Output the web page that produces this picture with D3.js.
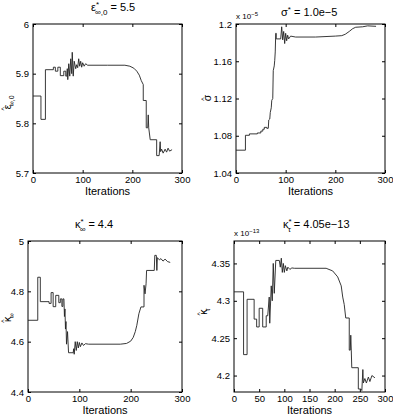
<!DOCTYPE html>
<html>
<head>
<meta charset="utf-8">
<script src="https://cdn.jsdelivr.net/npm/d3@7"></script>
<style>
  body { margin: 0; background: #fff; }
  svg { font-family: "Liberation Sans", Arial, sans-serif; }
</style>
</head>
<body>
<svg id="scene"></svg>
<script>
// iteration / estimate pairs
let epsData = [[0,5.855],[16,5.855],[16,5.808],[25,5.808],[25,5.908],[41,5.908],[41,5.913],[45,5.913],[45,5.905],[50,5.905],[50,5.913],[55,5.913],[55,5.896],[62,5.896],[62,5.905],[66,5.905],[66,5.895],[68,5.895],[69,5.91],[70,5.888],[72,5.92],[74,5.895],[76,5.93],[78,5.9],[79,5.943],[81,5.895],[83,5.925],[86,5.91],[88,5.918],[90,5.912],[92,5.93],[94,5.915],[96,5.925],[98,5.913],[100,5.922],[103,5.915],[106,5.92],[110,5.917],[150,5.917],[185,5.917],[195,5.915],[203,5.911],[209,5.905],[214,5.897],[218,5.886],[222,5.878],[222,5.846],[228,5.846],[228,5.791],[231,5.791],[232,5.817],[233,5.791],[236,5.767],[249,5.767],[249,5.735],[254,5.735],[256,5.763],[257,5.743],[259,5.748],[262,5.74],[266,5.748],[269,5.742],[272,5.75],[275,5.744],[280,5.747]];

let sigmaData = [[0,1.0645],[19,1.0645],[19,1.0805],[27,1.0805],[27,1.082],[43,1.082],[43,1.083],[50,1.083],[50,1.085],[54,1.085],[54,1.087],[57,1.087],[57,1.089],[62,1.089],[62,1.088],[65,1.088],[66,1.097],[68,1.098],[69,1.105],[71,1.11],[72,1.118],[74,1.12],[75,1.15],[77,1.155],[78,1.161],[79,1.17],[80,1.19],[81,1.19],[81,1.184],[90,1.184],[92,1.197],[94,1.183],[96,1.192],[98,1.179],[100,1.19],[102,1.182],[104,1.188],[106,1.184],[110,1.187],[120,1.186],[160,1.186],[200,1.187],[213,1.1875],[220,1.189],[228,1.192],[235,1.195],[241,1.1965],[255,1.197],[265,1.198],[282,1.1975]];

let kinfData = [[0,4.685],[19,4.685],[19,4.856],[24,4.856],[24,4.759],[41,4.759],[41,4.752],[45,4.752],[45,4.795],[49,4.795],[49,4.739],[54,4.739],[54,4.784],[60,4.784],[60,4.755],[63,4.755],[63,4.77],[66,4.77],[66,4.74],[68,4.74],[68,4.77],[70,4.77],[71,4.7],[72,4.73],[73,4.65],[74,4.68],[75,4.59],[77,4.64],[79,4.556],[88,4.556],[89,4.572],[90,4.55],[92,4.6],[94,4.565],[96,4.6],[98,4.575],[100,4.597],[102,4.58],[105,4.595],[108,4.585],[112,4.592],[118,4.59],[150,4.59],[180,4.59],[192,4.593],[200,4.602],[205,4.617],[209,4.64],[212,4.665],[216,4.711],[220,4.738],[226,4.738],[226,4.824],[228,4.79],[230,4.83],[231,4.883],[246,4.883],[247,4.943],[250,4.943],[251,4.883],[252,4.934],[256,4.925],[259,4.93],[263,4.92],[267,4.928],[272,4.918],[277,4.915]];

let ktauData = [[0,4.312],[19,4.312],[19,4.228],[26,4.228],[26,4.302],[40,4.302],[40,4.2755],[45,4.2755],[45,4.265],[50,4.265],[50,4.29],[57,4.29],[57,4.265],[64,4.265],[64,4.28],[67,4.28],[70,4.305],[71,4.27],[74,4.32],[76,4.3],[78,4.35],[80,4.31],[83,4.354],[90,4.354],[92,4.345],[94,4.357],[96,4.338],[98,4.35],[100,4.338],[102,4.347],[105,4.34],[107,4.345],[111,4.342],[115,4.344],[120,4.3435],[183,4.3435],[196,4.34],[206,4.332],[213,4.32],[216,4.305],[219,4.295],[222,4.277],[229,4.277],[229,4.234],[231,4.234],[232,4.254],[233,4.234],[234,4.2105],[247,4.2105],[247,4.182],[252,4.182],[254,4.18],[256,4.208],[257,4.19],[260,4.196],[263,4.19],[267,4.198],[270,4.192],[274,4.2],[280,4.197]];

let xTicks100 = [0, 100, 200, 300];
let xTicks50 = [0, 50, 100, 150, 200, 250, 300];
let epsTicks = [5.7, 5.8, 5.9, 6];
let sigmaTicks = [1.04, 1.08, 1.12, 1.16, 1.2];
let kinfTicks = [4.4, 4.6, 4.8, 5];
let ktauTicks = [4.2, 4.25, 4.3, 4.35];

function init() {
    let width = 393,
        height = 420,
        svg = d3.select('#scene').attr("width", width).attr("height", height);

    let panels = [
        {data: epsData, box: [33, 24, 182, 173], yDomain: [5.7, 6], yTicks: epsTicks, xTicks: xTicks100,
         title: {x: 91, y: 11, main: "ε", sub: "∞,0", val: " = 5.5"},
         ylab: {x: 11, y: 103, main: "ε", sub: "∞,0"}},
        {data: sigmaData, box: [236, 24, 385, 173], yDomain: [1.04, 1.2], yTicks: sigmaTicks, xTicks: xTicks100,
         title: {x: 281, y: 16, main: "σ", sub: "", val: " = 1.0e−5"},
         ylab: {x: 211, y: 98, main: "σ", sub: ""}, expo: "−5"},
        {data: kinfData, box: [28, 241, 182, 392], yDomain: [4.4, 5], yTicks: kinfTicks, xTicks: xTicks100,
         title: {x: 75, y: 228, main: "κ", sub: "∞", val: " = 4.4"},
         ylab: {x: 11, y: 318, main: "κ", sub: "∞"}},
        {data: ktauData, box: [234, 241, 385, 392], yDomain: [4.178, 4.38], yTicks: ktauTicks, xTicks: xTicks50,
         title: {x: 283, y: 228, main: "κ", sub: "τ", val: " = 4.05e−13"},
         ylab: {x: 207, y: 312, main: "κ", sub: "τ"}, expo: "−13"}
    ];

    let fmt = d => String(+d.toFixed(3));

    panels.forEach(p => {
        let [x0, y0, x1, y1] = p.box;
        let xScale = d3.scaleLinear().domain([0, 300]).range([x0, x1]);
        let yScale = d3.scaleLinear().domain(p.yDomain).range([y1, y0]);
        let g = svg.append('g');

        // axes, MATLAB style ticks pointing in on all four sides
        let axes = [
            [d3.axisBottom(xScale).tickValues(p.xTicks).tickFormat(fmt), `translate(0,${y1})`, 3],
            [d3.axisTop(xScale).tickValues(p.xTicks).tickFormat(''), `translate(0,${y0})`, 3],
            [d3.axisLeft(yScale).tickValues(p.yTicks).tickFormat(fmt), `translate(${x0},0)`, 4],
            [d3.axisRight(yScale).tickValues(p.yTicks).tickFormat(''), `translate(${x1},0)`, 4]
        ];
        axes.forEach(([ax, tr, pad]) => {
            let a = g.append('g').attr('transform', tr)
                .call(ax.tickSizeInner(-3).tickSizeOuter(0).tickPadding(pad));
            a.select('.domain').remove();
            a.selectAll('line').attr('stroke', '#000');
            a.selectAll('text').attr('font-size', 9.5).attr('fill', '#000')
                .attr('font-family', '"Liberation Sans", Arial, sans-serif');
        });

        g.append('rect')
            .attr('x', x0).attr('y', y0)
            .attr('width', x1 - x0).attr('height', y1 - y0)
            .attr('fill', 'none').attr('stroke', '#000').attr('stroke-width', 1);

        let line = d3.line().x(d => xScale(d[0])).y(d => yScale(d[1]));
        g.append('path')
            .attr('d', line(p.data))
            .attr('fill', 'none')
            .attr('stroke', '#222')
            .attr('stroke-width', 0.9);

        g.append('text')
            .attr('x', (x0 + x1) / 2)
            .attr('y', y1 + 22)
            .attr('text-anchor', 'middle')
            .attr('font-size', 11)
            .text('Iterations');

        // title: symbol with * superscript and subscript stacked
        let t = g.append('text').attr('x', p.title.x).attr('y', p.title.y).attr('font-size', 11);
        t.append('tspan').text(p.title.main);
        t.append('tspan').attr('font-size', 8).attr('dy', -4).text('*');
        if (p.title.sub) {
            t.append('tspan').attr('font-size', 8).attr('dx', -4).attr('dy', 8).text(p.title.sub);
            t.append('tspan').attr('dy', -4).text(p.title.val);
        } else {
            t.append('tspan').attr('dy', 4).text(p.title.val);
        }

        // y label with hat
        let yl = g.append('text')
            .attr('transform', `translate(${p.ylab.x},${p.ylab.y}) rotate(-90)`)
            .attr('font-size', 10.5)
            .attr('text-anchor', 'middle');
        yl.append('tspan').text(p.ylab.main);
        yl.append('tspan').attr('font-size', 7).attr('dx', -6).attr('dy', -5).text('^');
        if (p.ylab.sub) {
            yl.append('tspan').attr('font-size', 7).attr('dx', 1).attr('dy', 8).text(p.ylab.sub);
        }

        if (p.expo) {
            let e = g.append('text').attr('x', x0).attr('y', y0 - 5).attr('font-size', 8);
            e.append('tspan').text('x 10');
            e.append('tspan').attr('font-size', 6).attr('dy', -3).text(p.expo);
        }
    });
}

onload = function () {
    init();
}
</script>
</body>
</html>
